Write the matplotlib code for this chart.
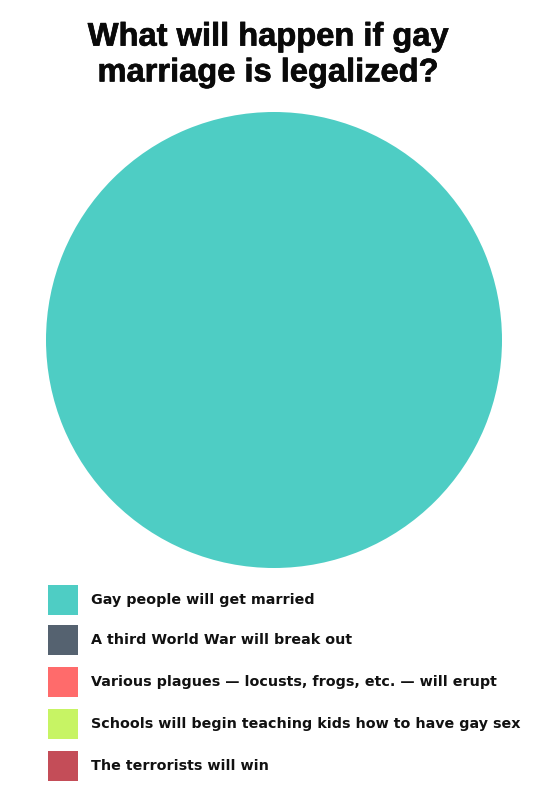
import matplotlib.pyplot as plt
from matplotlib.patches import Rectangle
import matplotlib.patheffects as pe

labels = [
    "Gay people will get married",
    "A third World War will break out",
    "Various plagues \u2014 locusts, frogs, etc. \u2014 will erupt",
    "Schools will begin teaching kids how to have gay sex",
    "The terrorists will win",
]
values = [100, 0, 0, 0, 0]
colors = ["#4ECDC4", "#556270", "#FF6B6B", "#C7F464", "#C44D58"]
title = "What will happen if gay\nmarriage is legalized?"

W, H = 550, 793
fig = plt.figure(figsize=(W / 100, H / 100), dpi=100)
fig.patch.set_facecolor("white")

fig.text(268 / W, 1 - 55 / H, title, ha="center", va="center",
         fontsize=23.5, fontweight="bold", family="Liberation Sans",
         linespacing=1.2, color="#0a0a0a",
         path_effects=[pe.withStroke(linewidth=0.5, foreground="#0a0a0a")])

# pie
ax = fig.add_axes([46 / W, 1 - 568 / H, 456 / W, 456 / H])
wedges, _ = ax.pie(values, colors=colors, startangle=90, counterclock=False,
                   wedgeprops=dict(linewidth=0))
ax.set_xlim(-1, 1)
ax.set_ylim(-1, 1)
ax.set_aspect("equal")
ax.axis("off")

# legend, drawn by hand
row_y = [600, 640, 682, 724, 766]
for lab, col, y in zip(labels, colors, row_y):
    fig.patches.append(Rectangle((48 / W, 1 - (y + 15) / H), 30 / W, 30 / H,
                                 transform=fig.transFigure, facecolor=col,
                                 edgecolor="none"))
    fig.text(91 / W, 1 - y / H, lab, ha="left", va="center",
             fontsize=10.3, fontweight="bold", family="DejaVu Sans",
             color="#111111")

fig.savefig("out.png", dpi=100)
